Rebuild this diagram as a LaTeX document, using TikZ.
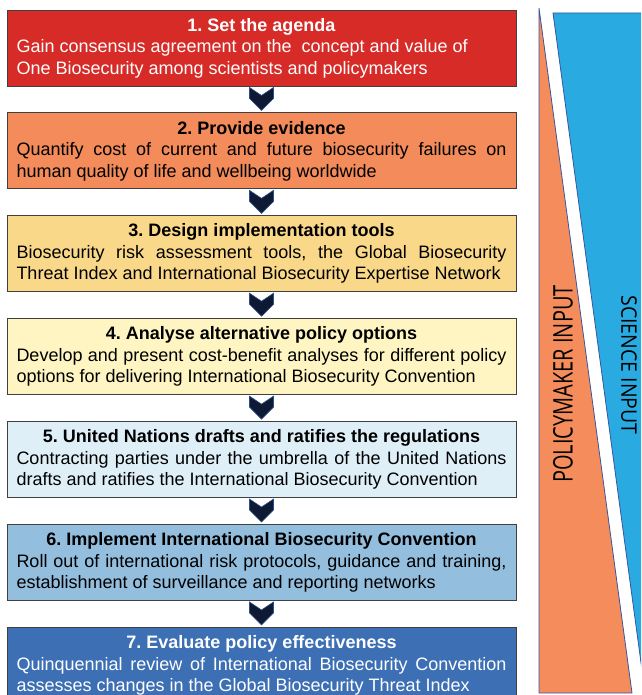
\documentclass[tikz,border=0pt]{standalone}
\usepackage{fontspec}
\setmainfont{Liberation Sans}
\newfontfamily\inputfont{Open Sans}
\usepackage{xcolor}
\usepackage{tikz}
\usetikzlibrary{positioning}
\frenchspacing

\definecolor{agendared}{HTML}{D62B27}
\definecolor{evidorange}{HTML}{F38B5A}
\definecolor{toolsyellow}{HTML}{FAD88A}
\definecolor{optionscream}{HTML}{FEF5C3}
\definecolor{unpaleblue}{HTML}{DFEFF8}
\definecolor{implblue}{HTML}{93BEDD}
\definecolor{evaldeep}{HTML}{3D6FB4}
\definecolor{boxline}{HTML}{404040}
\definecolor{chevnavy}{HTML}{0E1A33}
\definecolor{chevedge}{HTML}{2E4F8F}
\definecolor{policyorange}{HTML}{F58C5B}
\definecolor{scienceblue}{HTML}{29ABE2}
\definecolor{wedgeline}{HTML}{3A55A0}

\begin{document}
\begin{tikzpicture}[x=1pt, y=-1pt, node distance=26pt,
    stepbox/.style={draw=boxline, line width=0.9pt, text width=490pt,
        inner xsep=9.5pt, inner ysep=0pt, minimum height=76pt, align=justify,
        font=\fontsize{18}{21.5}\selectfont},
    chevron/.style={fill=chevnavy, draw=chevedge, line width=0.6pt},
    wedge/.style={draw=wedgeline, line width=0.8pt}]
    \useasboundingbox (0,0) rectangle (641,695);
    \clip (0,0) rectangle (641,695);

    % Policymaker input (orange wedge)
    \filldraw[wedge, fill=policyorange] (539,8) -- (632,693) -- (539,693) -- cycle;
    \node[rotate=90, font=\inputfont\fontsize{20}{20}\selectfont] (policy) at (563,384)
        {\scalebox{1}[1.35]{POLICYMAKER INPUT}};

    % Science input (blue wedge)
    \filldraw[wedge, fill=scienceblue] (553,13) -- (660,13) -- (660,803) -- cycle;
    \node[rotate=-90, font=\inputfont\fontsize{19.5}{20}\selectfont] (science) at (629,365)
        {\scalebox{1}[1.1]{SCIENCE INPUT}};

    % Step 1 - agenda (red)
    \node[stepbox, fill=agendared, text=white] (s1) at (261.5,48) {%
        {\centering\textbf{1. Set the agenda}\par}
        Gain consensus agreement on the \ concept and value of\newline
        One Biosecurity among scientists and policymakers};

    % Step 2 - evidence (orange)
    \node[stepbox, fill=evidorange, below=of s1] (s2) {%
        {\centering\textbf{2. Provide evidence}\par}
        Quantify cost of current and future biosecurity failures on\linebreak
        human quality of life and wellbeing worldwide};

    % Step 3 - tools (yellow)
    \node[stepbox, fill=toolsyellow, below=of s2] (s3) {%
        {\centering\textbf{3. Design implementation tools}\par}
        Biosecurity risk assessment tools, the Global Biosecurity\linebreak
        Threat Index and International Biosecurity Expertise Network};

    % Step 4 - options (cream)
    \node[stepbox, fill=optionscream, below=of s3] (s4) {%
        {\centering\textbf{4. Analyse alternative policy options}\par}
        Develop and present cost-benefit analyses for different policy\linebreak
        options for delivering International Biosecurity Convention};

    % Step 5 - United Nations (pale blue)
    \node[stepbox, fill=unpaleblue, below=of s4] (s5) {%
        {\centering\textbf{5. United Nations drafts and ratifies the regulations}\par}
        Contracting parties under the umbrella of the United Nations\linebreak
        drafts and ratifies the International Biosecurity Convention};

    % Step 6 - implement (mid blue)
    \node[stepbox, fill=implblue, below=of s5] (s6) {%
        {\centering\textbf{6. Implement International Biosecurity Convention}\par}
        Roll out of international risk protocols, guidance and training,\linebreak
        establishment of surveillance and reporting networks};

    % Step 7 - evaluate (deep blue)
    \node[stepbox, fill=evaldeep, text=white, below=of s6] (s7) {%
        {\centering\textbf{7. Evaluate policy effectiveness}\par}
        Quinquennial review of International Biosecurity Convention\linebreak
        assesses changes in the Global Biosecurity Threat Index};

    % Chevrons between the steps
    \foreach \a/\b in {s1/s2, s2/s3, s3/s4, s4/s5, s5/s6, s6/s7}
        \filldraw[chevron] ([xshift=-12pt,yshift=-1pt]\a.south) -- ([yshift=-9pt]\a.south)
            -- ([xshift=12pt,yshift=-1pt]\a.south) -- ([xshift=12pt,yshift=14pt]\b.north)
            -- ([yshift=2pt]\b.north) -- ([xshift=-12pt,yshift=14pt]\b.north) -- cycle;
\end{tikzpicture}
\end{document}
